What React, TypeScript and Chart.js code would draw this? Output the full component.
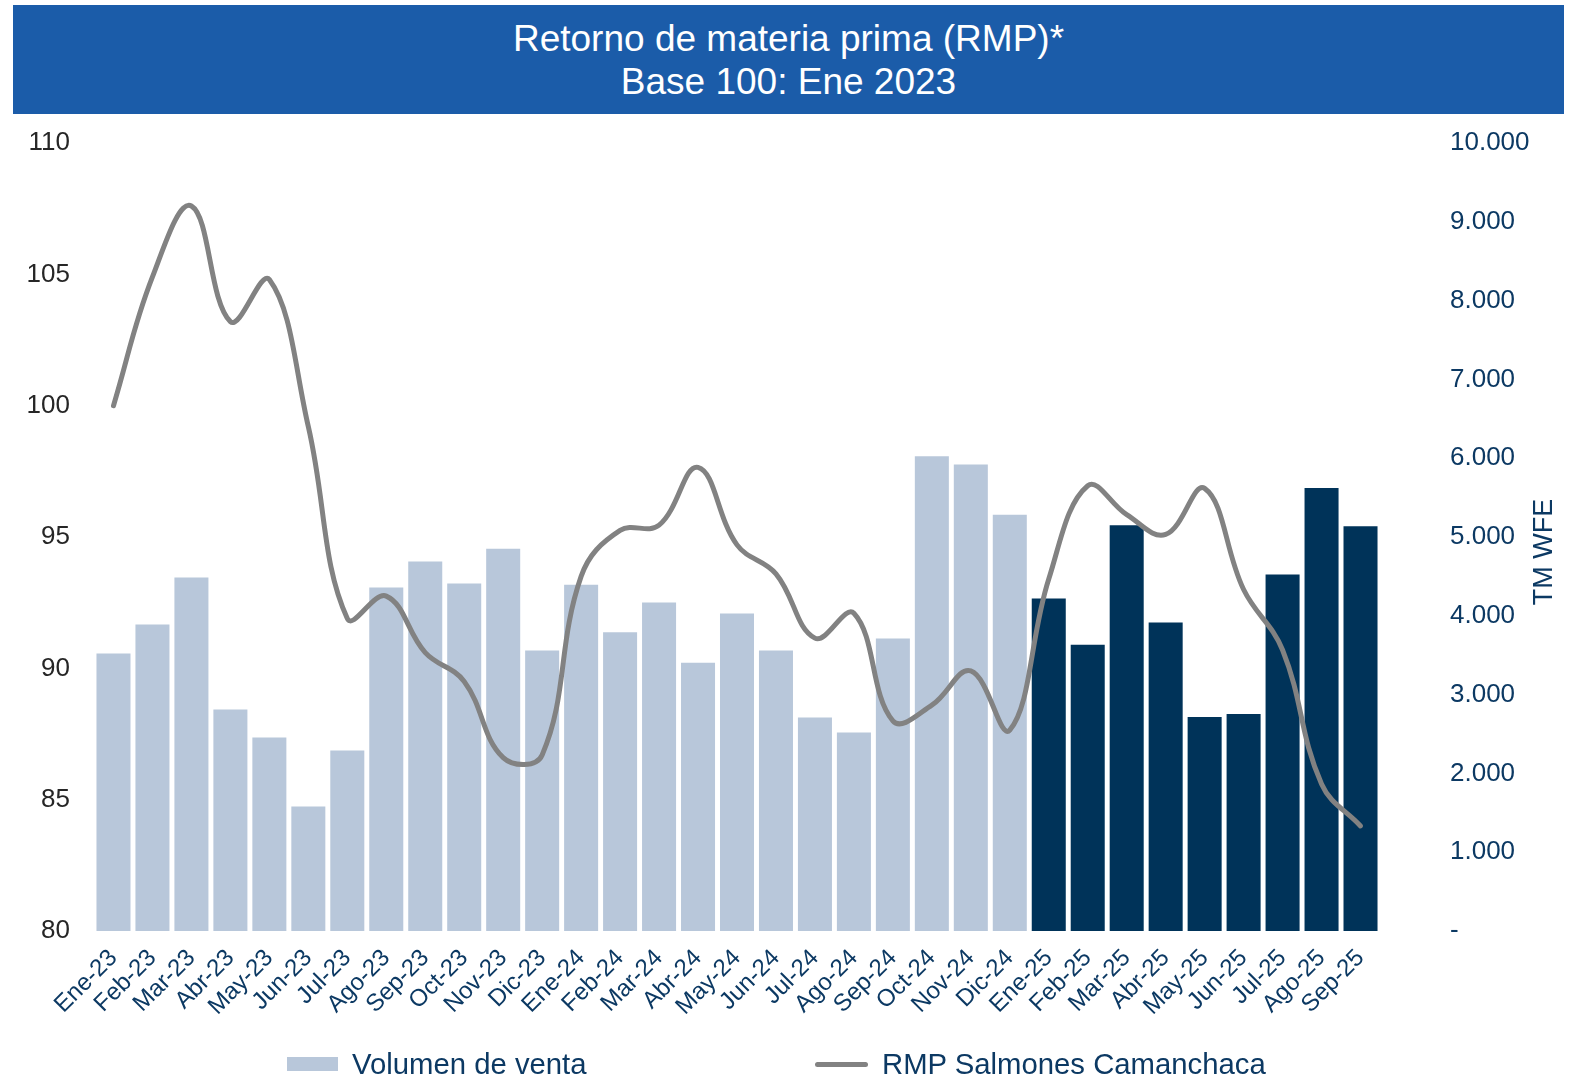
import React, { useEffect, useRef } from 'react';
import { Chart, registerables } from 'chart.js';

Chart.register(...registerables);

const categories = [
  'Ene-23', 'Feb-23', 'Mar-23', 'Abr-23', 'May-23', 'Jun-23', 'Jul-23', 'Ago-23', 'Sep-23', 'Oct-23', 'Nov-23', 'Dic-23',
  'Ene-24', 'Feb-24', 'Mar-24', 'Abr-24', 'May-24', 'Jun-24', 'Jul-24', 'Ago-24', 'Sep-24', 'Oct-24', 'Nov-24', 'Dic-24',
  'Ene-25', 'Feb-25', 'Mar-25', 'Abr-25', 'May-25', 'Jun-25', 'Jul-25', 'Ago-25', 'Sep-25',
];

// Volumen de venta (TM WFE) - right axis
const salesVolume = [
  3520, 3890, 4485, 2810, 2455, 1580, 2290, 4360, 4690, 4410, 4850, 3560,
  4395, 3790, 4168, 3405, 4030, 3560, 2710, 2518, 3712, 6026, 5920, 5282,
  4220, 3633, 5150, 3915, 2715, 2755, 4525, 5622, 5138,
];

// RMP Salmones Camanchaca (Base 100: Ene 2023) - left axis
const rmpIndex = [
  100.0, 104.9, 107.6, 103.2, 104.8, 99.2, 91.9, 92.75, 90.6, 89.5, 86.6, 86.7,
  93.5, 95.25, 95.45, 97.65, 94.7, 93.6, 91.15, 92.1, 88.0, 88.6, 89.9, 87.65,
  93.4, 96.95, 95.85, 95.1, 96.85, 93.0, 90.7, 85.6, 84.0,
];

const leftMin = 80;
const leftMax = 110;
const leftStep = 5;
const rightMin = 0;
const rightMax = 10000;
const rightStep = 1000;

const seriesNames = ['Volumen de venta', 'RMP Salmones Camanchaca'];
const titleLines = ['Retorno de materia prima (RMP)*', 'Base 100: Ene 2023'];
const rightAxisTitle = 'TM WFE';
const highlightYear = '25';

const FONT = '"Liberation Sans", Arial, sans-serif';
const NAVY = '#0c3963';
const LIGHT_BAR = '#b8c7da';
const DARK_BAR = '#003359';
const LINE_GREY = '#828282';
const BANNER = '#1b5ca9';

const W = 1570;
const H = 1080;

function formatThousands(v: number): string {
  if (v === 0) return '-';
  return String(Math.round(v)).replace(/\B(?=(\d{3})+(?!\d))/g, '.');
}

const axisTitlePlugin = {
  id: 'rightAxisTitle',
  afterDraw(chart: any) {
    const ctx = chart.ctx;
    ctx.save();
    ctx.translate(1545, 552);
    ctx.rotate(-Math.PI / 2);
    ctx.fillStyle = NAVY;
    ctx.font = `27px ${FONT}`;
    ctx.textAlign = 'center';
    ctx.textBaseline = 'middle';
    ctx.fillText(rightAxisTitle, 0, 0);
    ctx.restore();
  },
};

export default function App() {
  const canvasRef = useRef<HTMLCanvasElement | null>(null);

  useEffect(() => {
    if (!canvasRef.current) return;
    Chart.defaults.font.family = FONT;
    const chart = new Chart(canvasRef.current, {
      type: 'bar',
      data: {
        labels: categories,
        datasets: [
          {
            type: 'line',
            label: seriesNames[1],
            data: rmpIndex,
            yAxisID: 'y',
            borderColor: LINE_GREY,
            backgroundColor: LINE_GREY,
            borderWidth: 5,
            pointRadius: 0,
            tension: 0.4,
            order: 0,
            borderCapStyle: 'round',
          } as any,
          {
            type: 'bar',
            label: seriesNames[0],
            data: salesVolume,
            yAxisID: 'y1',
            backgroundColor: categories.map((c) => (c.endsWith(highlightYear) ? DARK_BAR : LIGHT_BAR)),
            barPercentage: 0.873,
            categoryPercentage: 1.0,
            order: 1,
          },
        ],
      },
      options: {
        responsive: false,
        animation: false,
        layout: { padding: { top: 143, left: 0, right: 0, bottom: 0 } },
        plugins: {
          legend: { display: false },
          title: { display: false },
          tooltip: { enabled: false },
        },
        scales: {
          x: {
            offset: true,
            grid: { display: false, drawTicks: false },
            border: { display: false },
            ticks: {
              autoSkip: false,
              maxRotation: 45,
              minRotation: 45,
              color: NAVY,
              font: { size: 24, family: FONT },
              padding: 13,
            },
            afterFit(scale: any) {
              scale.height = H - 931;
            },
          },
          y: {
            position: 'left',
            min: leftMin,
            max: leftMax,
            grid: { display: false, drawTicks: false },
            border: { display: false },
            ticks: {
              stepSize: leftStep,
              color: '#262626',
              font: { size: 26, family: FONT },
              padding: 24,
            },
            afterFit(scale: any) {
              scale.width = 94;
            },
          },
          y1: {
            position: 'right',
            min: rightMin,
            max: rightMax,
            grid: { display: false, drawTicks: false },
            border: { display: false },
            ticks: {
              stepSize: rightStep,
              color: NAVY,
              font: { size: 26, family: FONT },
              padding: 70,
              callback: (v: any) => formatThousands(Number(v)),
            },
            afterFit(scale: any) {
              scale.width = W - 1380;
            },
          },
        },
      },
      plugins: [axisTitlePlugin],
    });
    return () => chart.destroy();
  }, []);

  return (
    <div style={{ position: 'absolute', left: 0, top: 0, width: W, height: H, overflow: 'hidden', background: '#fff', fontFamily: FONT }}>
      <canvas ref={canvasRef} width={W} height={H} style={{ position: 'absolute', left: 0, top: 0, display: 'block' }} />
      <div
        style={{
          position: 'absolute',
          left: 13,
          top: 5,
          width: 1551,
          height: 109,
          background: BANNER,
          color: '#fff',
          display: 'flex',
          flexDirection: 'column',
          alignItems: 'center',
          justifyContent: 'center',
          fontSize: 37,
          lineHeight: '43px',
        }}
      >
        {titleLines.map((t) => (
          <div key={t}>{t}</div>
        ))}
      </div>
      <div style={{ position: 'absolute', left: 287, top: 1047, height: 34, display: 'flex', alignItems: 'center', color: NAVY, fontSize: 29.3 }}>
        <span style={{ display: 'inline-block', width: 51, height: 14, background: LIGHT_BAR, marginRight: 14 }} />
        <span>{seriesNames[0]}</span>
      </div>
      <div style={{ position: 'absolute', left: 815, top: 1047, height: 34, display: 'flex', alignItems: 'center', color: NAVY, fontSize: 29.3 }}>
        <span style={{ display: 'inline-block', width: 53, height: 5, borderRadius: 3, background: LINE_GREY, marginRight: 14 }} />
        <span>{seriesNames[1]}</span>
      </div>
    </div>
  );
}
